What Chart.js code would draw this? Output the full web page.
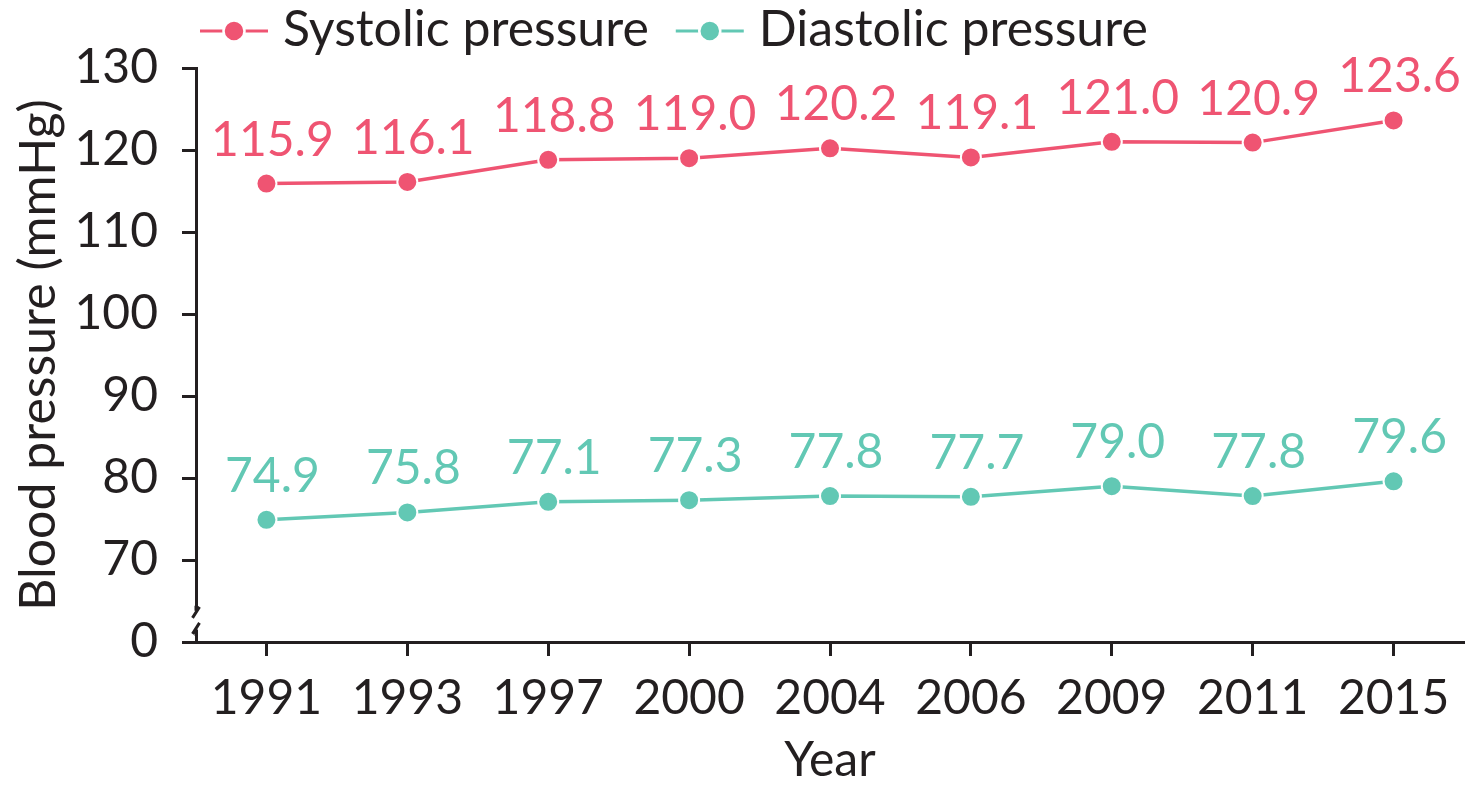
<!DOCTYPE html>
<html>
<head>
<meta charset="utf-8">
<script src="https://cdn.jsdelivr.net/npm/chart.js@4/dist/chart.umd.min.js"></script>
<style>
  html, body { margin: 0; padding: 0; background: #fff; }
  #wrap { width: 1476px; height: 793px; }
</style>
</head>
<body>
<div id="wrap"><canvas id="c" width="1476" height="793"></canvas></div>
<script>
const years = ['1991', '1993', '1997', '2000', '2004', '2006', '2009', '2011', '2015'];
const systolic = [115.9, 116.1, 118.8, 119.0, 120.2, 119.1, 121.0, 120.9, 123.6];
const diastolic = [74.9, 75.8, 77.1, 77.3, 77.8, 77.7, 79.0, 77.8, 79.6];
const seriesNames = ['Systolic pressure', 'Diastolic pressure'];
const yTicks = [60, 70, 80, 90, 100, 110, 120, 130];
const yTickLabels = ['0', '70', '80', '90', '100', '110', '120', '130'];

const RED = '#EF5472';
const TEAL = '#62C8B4';
const INK = '#231F20';
const FONT = 'Lato, "Open Sans", sans-serif';

const labelPlugin = {
  id: 'valueLabels',
  afterDatasetsDraw(chart) {
    const ctx = chart.ctx;
    ctx.save();
    ctx.font = '48px ' + FONT;
    ctx.textAlign = 'center';
    ctx.textBaseline = 'alphabetic';
    chart.data.datasets.forEach((ds, i) => {
      const meta = chart.getDatasetMeta(i);
      ctx.fillStyle = ds.borderColor;
      meta.data.forEach((pt, j) => {
        ctx.fillText(ds.data[j].toFixed(1), pt.x + 6, pt.y - 28);
      });
    });
    ctx.restore();
  }
};

const breakPlugin = {
  id: 'axisBreak',
  afterDraw(chart) {
    const ctx = chart.ctx;
    const y = chart.scales.y;
    const x0 = chart.chartArea.left;
    const yb = y.getPixelForValue(60);
    const ya = y.getPixelForValue(70);
    const mid = yb - (yb - ya) * 0.27;
    ctx.save();
    ctx.fillStyle = '#fff';
    ctx.fillRect(x0 - 8, mid - 10, 16, 20);
    ctx.strokeStyle = INK;
    ctx.lineWidth = 3;
    ctx.beginPath();
    ctx.moveTo(x0, mid - 14); ctx.lineTo(x0, mid - 9);
    ctx.moveTo(x0 - 3.5, mid - 2); ctx.lineTo(x0 + 3.5, mid - 13);
    ctx.moveTo(x0 - 3.5, mid + 14); ctx.lineTo(x0 + 3.5, mid + 3);
    ctx.moveTo(x0, mid + 8); ctx.lineTo(x0, mid + 16);
    ctx.stroke();
    ctx.restore();
  }
};

const legendPlugin = {
  id: 'customLegend',
  afterDraw(chart) {
    const ctx = chart.ctx;
    ctx.save();
    ctx.font = '50px ' + FONT;
    ctx.textBaseline = 'alphabetic';
    ctx.textAlign = 'left';
    let x = chart.chartArea.left + 4;
    const yLine = 31;
    chart.data.datasets.forEach((ds) => {
      ctx.strokeStyle = ds.borderColor;
      ctx.lineWidth = 3;
      ctx.beginPath();
      ctx.moveTo(x, yLine); ctx.lineTo(x + 68, yLine);
      ctx.stroke();
      ctx.fillStyle = ds.borderColor;
      ctx.strokeStyle = '#fff';
      ctx.lineWidth = 2.5;
      ctx.beginPath();
      ctx.arc(x + 34, yLine, 10.5, 0, Math.PI * 2);
      ctx.fill();
      ctx.stroke();
      ctx.fillStyle = INK;
      ctx.fillText(ds.label, x + 83, 46);
      x += 83 + ctx.measureText(ds.label).width + 27;
    });
    ctx.restore();
  }
};

new Chart(document.getElementById('c'), {
  type: 'line',
  data: {
    labels: years,
    datasets: [
      {
        label: seriesNames[0], data: systolic,
        borderColor: RED, backgroundColor: RED, borderWidth: 3.5,
        pointRadius: 10, pointBorderWidth: 2, pointBorderColor: '#fff', pointBackgroundColor: RED,
        tension: 0
      },
      {
        label: seriesNames[1], data: diastolic,
        borderColor: TEAL, backgroundColor: TEAL, borderWidth: 3.5,
        pointRadius: 10, pointBorderWidth: 2, pointBorderColor: '#fff', pointBackgroundColor: TEAL,
        tension: 0
      }
    ]
  },
  options: {
    responsive: false,
    animation: false,
    devicePixelRatio: 1,
    layout: { padding: { top: 68, right: 10, left: 0, bottom: 0 } },
    plugins: { legend: { display: false }, tooltip: { enabled: false } },
    elements: { line: { clip: false } },
    scales: {
      x: {
        type: 'category',
        offset: true,
        border: { display: true, color: INK, width: 3 },
        grid: { display: true, offset: false, drawOnChartArea: false, drawTicks: true, tickLength: 14, tickColor: INK, tickWidth: 3 },
        ticks: { color: INK, font: { family: FONT, size: 48 }, padding: 14, maxRotation: 0, autoSkip: false },
        title: { display: true, text: 'Year', color: INK, font: { family: FONT, size: 48, lineHeight: 1.2 }, padding: { top: 0, bottom: 4 } },
        afterFit: (s) => { s.height = 151; }
      },
      y: {
        min: 60, max: 130,
        afterBuildTicks: (s) => { s.ticks = yTicks.map(v => ({ value: v })); },
        border: { display: true, color: INK, width: 3 },
        grid: { display: true, drawOnChartArea: false, drawTicks: true, tickLength: 14, tickColor: INK, tickWidth: 3 },
        ticks: {
          color: INK, font: { family: FONT, size: 48 }, padding: 24,
          callback: (v) => { const i = yTicks.indexOf(v); return i >= 0 ? yTickLabels[i] : ''; }
        },
        title: { display: true, text: 'Blood pressure (mmHg)', color: INK, font: { family: FONT, size: 50, lineHeight: 1.2 }, padding: { top: 9, bottom: 0 } },
        afterFit: (s) => { s.width = 196; }
      }
    }
  },
  plugins: [labelPlugin, breakPlugin, legendPlugin]
});
</script>
</body>
</html>
